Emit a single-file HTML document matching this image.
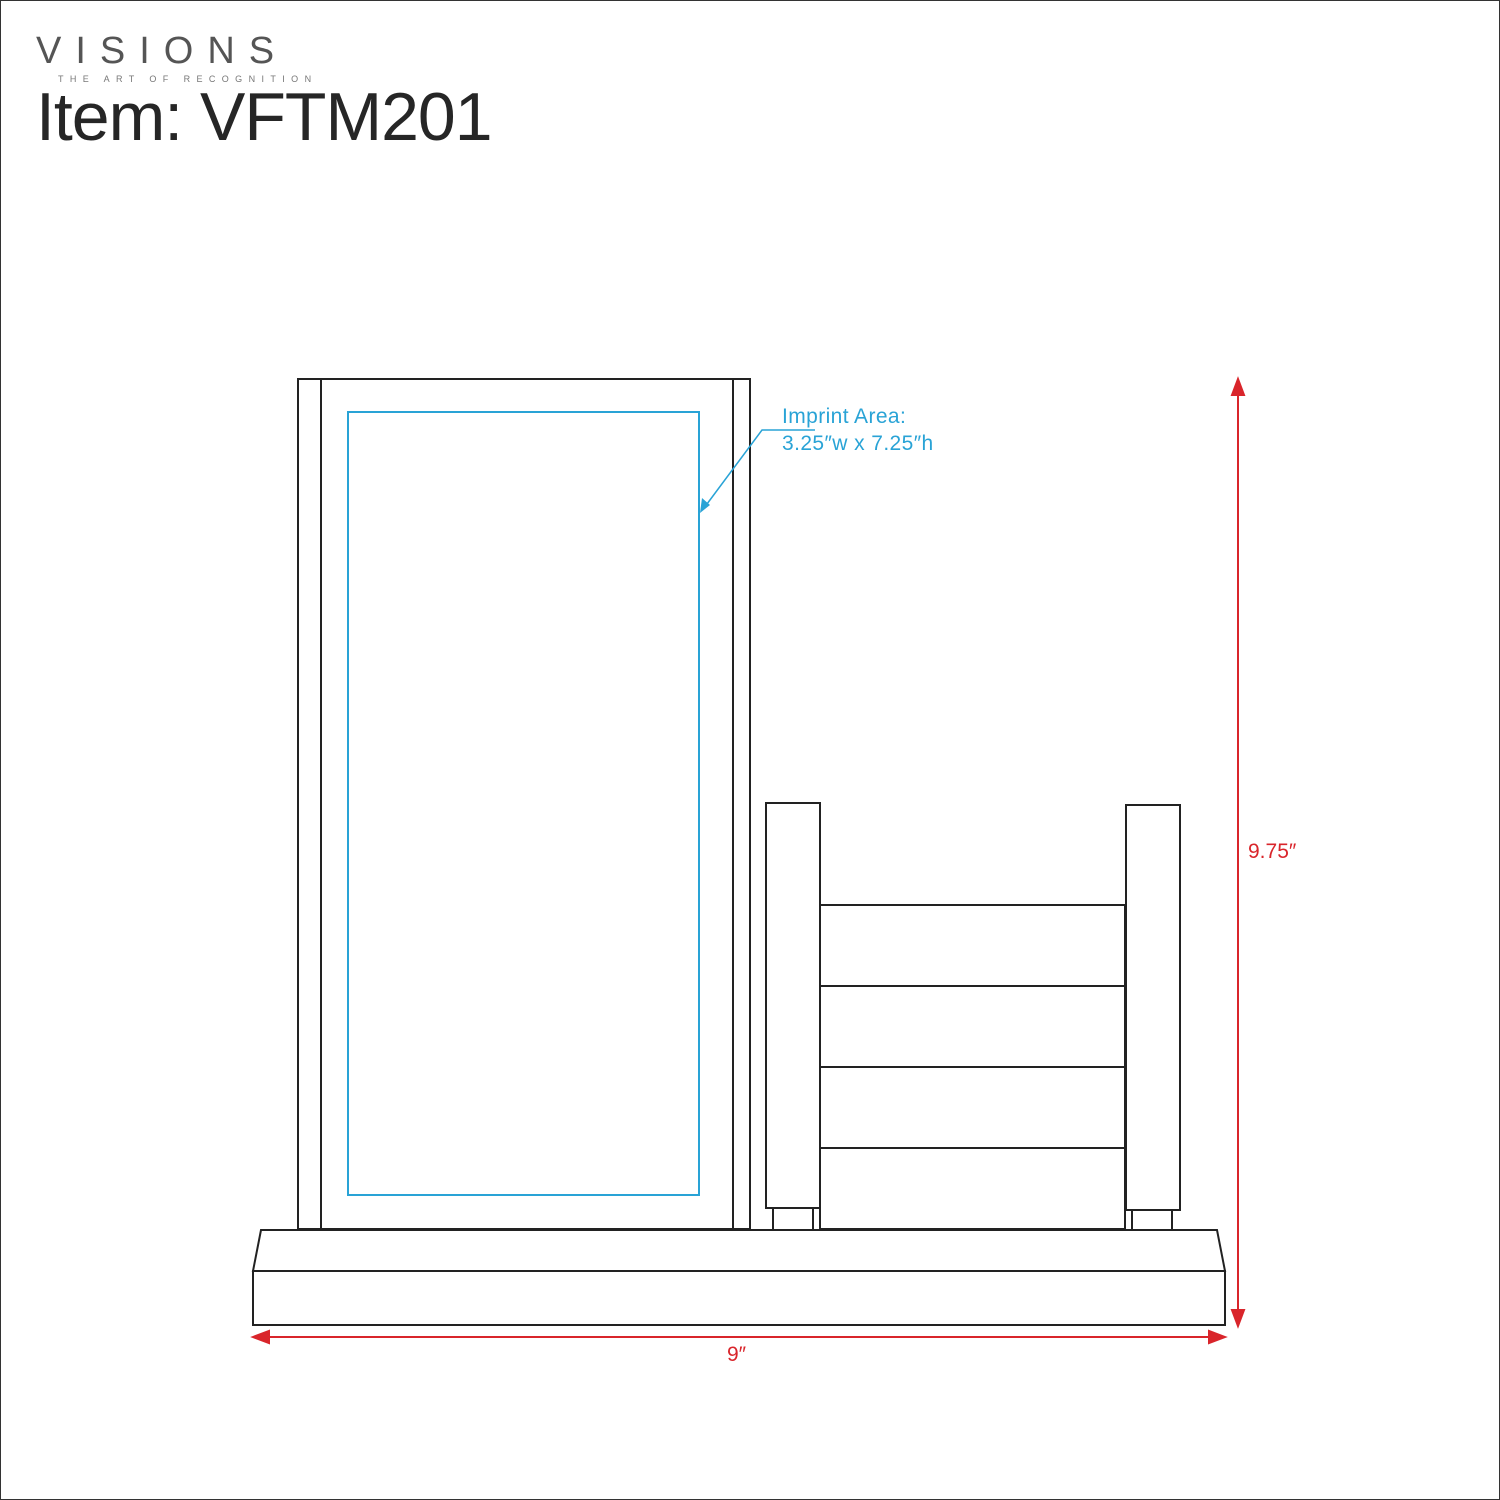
<!DOCTYPE html>
<html><head><style>
body{margin:0;width:1500px;height:1500px;background:#fff;overflow:hidden;position:relative;font-family:"Liberation Sans",sans-serif}
.t{position:absolute;white-space:nowrap}
</style></head><body>
<div style="position:absolute;left:0;top:0;width:1498px;height:1498px;border:1px solid #333"></div>
<div class="t" style="left:36px;top:30px;font-size:38px;letter-spacing:14px;color:#555">VISIONS</div>
<div class="t" style="left:58px;top:74px;font-size:9px;letter-spacing:6.4px;color:#777">THE ART OF RECOGNITION</div>
<div class="t" style="left:36px;top:78px;font-size:68px;color:#262626;letter-spacing:-1px">Item: VFTM201</div>
<svg width="1500" height="1500" style="position:absolute;left:0;top:0">
<g fill="none" stroke="#222" stroke-width="2">
<rect x="298" y="379" width="452" height="850"/>
<line x1="321" y1="379" x2="321" y2="1229"/>
<line x1="733" y1="379" x2="733" y2="1229"/>
<rect x="766" y="803" width="54" height="405"/>
<rect x="773" y="1208" width="40" height="22"/>
<rect x="1126" y="805" width="54" height="405"/>
<rect x="1132" y="1210" width="40" height="20"/>
<rect x="820" y="905" width="305" height="324"/>
<line x1="820" y1="986" x2="1125" y2="986"/>
<line x1="820" y1="1067" x2="1125" y2="1067"/>
<line x1="820" y1="1148" x2="1125" y2="1148"/>
<polygon points="261,1230 1217,1230 1225,1271 253,1271"/>
<rect x="253" y="1271" width="972" height="54"/>
</g>
<rect x="348" y="412" width="351" height="783" fill="none" stroke="#29a3d6" stroke-width="2"/>
<polyline points="815,430 762,430 704,508" fill="none" stroke="#29a3d6" stroke-width="1.5"/>
<polygon points="700,513 702,498 710,505" fill="#29a3d6"/>
<g stroke="#d9252b" stroke-width="2" fill="#d9252b">
<line x1="1238" y1="388" x2="1238" y2="1318"/>
<polygon points="1238,379 1232,395 1244,395"/>
<polygon points="1238,1326 1232,1310 1244,1310"/>
<line x1="262" y1="1337" x2="1216" y2="1337"/>
<polygon points="253,1337 269,1331 269,1343"/>
<polygon points="1225,1337 1209,1331 1209,1343"/>
</g>
</svg>
<div class="t" style="left:782px;top:403px;font-size:21px;letter-spacing:0.4px;color:#29a3d6;line-height:27px">Imprint Area:<br>3.25″w x 7.25″h</div>
<div class="t" style="left:1248px;top:840px;font-size:21px;color:#d9252b">9.75″</div>
<div class="t" style="left:727px;top:1343px;font-size:21px;color:#d9252b">9″</div>
</body></html>
